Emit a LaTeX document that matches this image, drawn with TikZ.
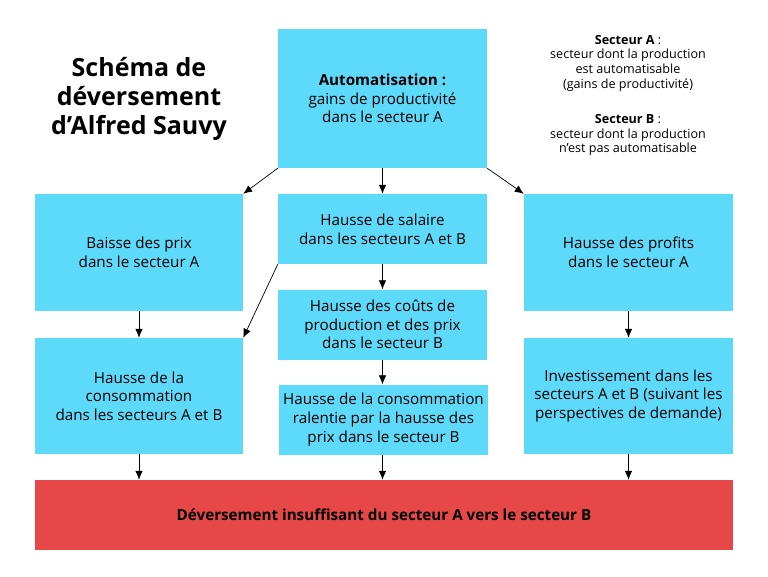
\documentclass[tikz,border=0pt]{standalone}
\usepackage{fontspec}
\setmainfont{Open Sans}
\usetikzlibrary{arrows.meta}
\definecolor{boxCyan}{HTML}{5DD9FA}
\definecolor{boxRed}{HTML}{E64747}
\begin{document}
\begin{tikzpicture}[x=1pt, y=-1pt,
    boxStyle/.style={fill=boxCyan, inner sep=0pt, align=center, font=\fontsize{15.2}{18.7}\selectfont},
    arrowStyle/.style={-{Latex[length=9pt,width=7.5pt]}, line width=0.7pt},
    noteStyle/.style={align=center, font=\fontsize{12.6}{14.7}\selectfont}]
    \useasboundingbox (0,0) rectangle (768,576);
    \node[align=center, font=\fontsize{25}{29}\selectfont\bfseries](titre) at (139, 99) {Schéma de\\déversement\\d’Alfred Sauvy};
    \node[noteStyle](noteA) at (628, 63) {\textbf{Secteur A} :\\secteur dont la production\\est automatisable\\(gains de productivité)};
    \node[noteStyle](noteB) at (628, 135) {\textbf{Secteur B} :\\secteur dont la production\\n’est pas automatisable};

    \node[boxStyle, minimum width=209, minimum height=139](auto) at (382.5, 98.5) {\textbf{Automatisation :}\\gains de productivité\\dans le secteur A};
    \node[boxStyle, minimum width=208, minimum height=117](baisse) at (139, 252.5) {Baisse des prix\\dans le secteur A};
    \node[boxStyle, minimum width=209, minimum height=70](salaire) at (382.5, 229) {Hausse de salaire\\dans les secteurs A et B};
    \node[boxStyle, minimum width=209, minimum height=117](profits) at (628.5, 252.5) {Hausse des profits\\dans le secteur A};
    \node[boxStyle, minimum width=208, minimum height=116](conso) at (139, 396) {Hausse de la\\consommation\\dans les secteurs A et B};
    \node[boxStyle, minimum width=209, minimum height=70](couts) at (382.5, 324.5) {Hausse des coûts de\\production et des prix\\dans le secteur B};
    \node[boxStyle, minimum width=209, minimum height=70](ralentie) at (383.5, 419.5) {Hausse de la consommation\\ralentie par la hausse des\\prix dans le secteur B};
    \node[boxStyle, minimum width=209, minimum height=116](invest) at (628.5, 396) {Investissement dans les\\secteurs A et B (suivant les\\perspectives de demande)};
    \node[boxStyle, fill=boxRed, minimum width=698, minimum height=70, font=\fontsize{15.2}{18.7}\selectfont\bfseries](deversement) at (384, 515) {Déversement insuffisant du secteur A vers le secteur B};

    \draw[arrowStyle] (auto.south west) -- (baisse.north east);
    \draw[arrowStyle] (auto.south) -- (salaire.north);
    \draw[arrowStyle] (auto.south east) -- (profits.north west);
    \draw[arrowStyle] (baisse) -- (conso);
    \draw[arrowStyle] (salaire.south west) -- (conso.north east);
    \draw[arrowStyle] (salaire) -- (couts);
    \draw[arrowStyle] (couts) -- (ralentie.north -| couts);
    \draw[arrowStyle] (profits) -- (invest);
    \draw[arrowStyle] (conso.south) -- (conso.south |- deversement.north);
    \draw[arrowStyle] (ralentie.south -| couts) -- (couts |- deversement.north);
    \draw[arrowStyle] (invest.south) -- (invest.south |- deversement.north);
\end{tikzpicture}
\end{document}
